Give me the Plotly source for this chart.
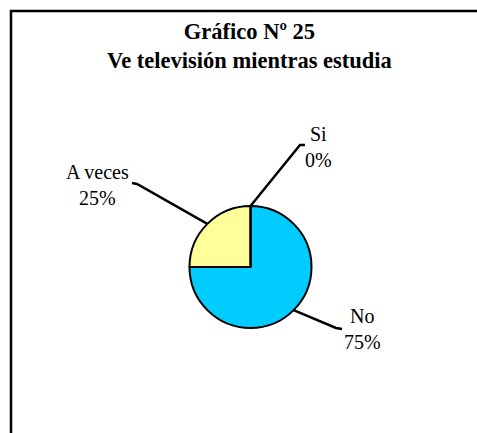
import math
import plotly.graph_objects as go

categories = ["No", "A veces", "Si"]
values = [75, 25, 0]
percent_labels = ["75%", "25%", "0%"]
colors = ["#00CCFF", "#FFFF99", "#FFFFFF"]

W, H = 477, 433
cx, cy, r = 250.5, 267.0, 61.0
SERIF = "Liberation Serif, Times New Roman, DejaVu Serif, serif"

fig = go.Figure()
fig.add_trace(go.Pie(
    labels=categories, values=values, sort=False, direction="clockwise",
    rotation=0, textinfo="none", hoverinfo="label+percent",
    marker=dict(colors=colors, line=dict(color="black", width=2)),
    domain=dict(x=[(cx - r) / W, (cx + r) / W], y=[(H - cy - r) / H, (H - cy + r) / H]),
    showlegend=False,
))

# leader-line elbow/end points and label positions (layout)
elbows = {"No": (336, 328), "A veces": (137, 184), "Si": (300, 145)}
ends = {"No": (342, 329), "A veces": (132, 183), "Si": (305, 145)}
label_pos = {"No": (362, 329), "A veces": (97, 185), "Si": (318, 147)}

total = sum(values)
cum = 0
shapes = []
annotations = []
for cat, v, pl in zip(categories, values, percent_labels):
    mid = (cum + v / 2) / total * 2 * math.pi
    cum += v
    sx = cx + r * math.sin(mid)
    sy = cy - r * math.cos(mid)
    ex, ey = elbows[cat]
    fx, fy = ends[cat]
    shapes.append(dict(type="path", xref="x", yref="y",
                       path=f"M {sx},{sy} L {ex},{ey} L {fx},{fy}",
                       line=dict(color="black", width=2.5)))
    lx, ly = label_pos[cat]
    annotations.append(dict(x=lx, y=ly, xref="x", yref="y", text=f"{cat}<br>{pl}",
                            showarrow=False, align="center",
                            font=dict(family=SERIF, size=20, color="black")))

# frame
shapes.append(dict(type="rect", xref="x", yref="y", x0=11, y0=11, x1=W + 20, y1=H + 20,
                   line=dict(color="black", width=2.5), layer="above"))

annotations.append(dict(x=249, y=46, xref="x", yref="y",
                        text="<b>Gráfico Nº 25</b><br><b>Ve televisión mientras estudia</b>",
                        showarrow=False, align="center",
                        font=dict(family=SERIF, size=22.5, color="black")))

fig.update_layout(
    width=W, height=H, margin=dict(l=0, r=0, t=0, b=0),
    paper_bgcolor="white", plot_bgcolor="rgba(0,0,0,0)",
    font=dict(family=SERIF),
    xaxis=dict(range=[0, W], visible=False, fixedrange=True),
    yaxis=dict(range=[H, 0], visible=False, fixedrange=True),
    shapes=shapes, annotations=annotations,
)
fig.write_html("out.html", config=dict(displayModeBar=False),
               post_script="document.body.style.margin='0';document.body.style.overflow='hidden';")
